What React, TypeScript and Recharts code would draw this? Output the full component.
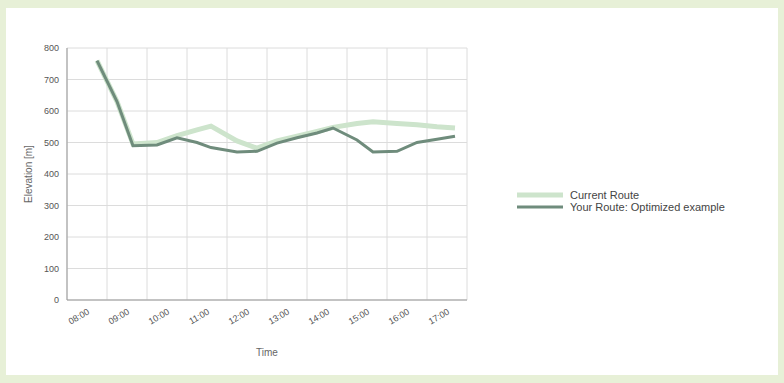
import { CartesianGrid, Legend, Line, LineChart, XAxis, YAxis } from 'recharts';

const timeLabels = ['08:00', '09:00', '10:00', '11:00', '12:00', '13:00', '14:00', '15:00', '16:00', '17:00'];
const tickHours = [0.5, 1.5, 2.5, 3.5, 4.5, 5.5, 6.5, 7.5, 8.5, 9.5];
const yTicks = [0, 100, 200, 300, 400, 500, 600, 700, 800];

const sampleHours = [0.75, 1.25, 1.65, 2.25, 2.75, 3.25, 3.6, 4.25, 4.75, 5.25, 5.75, 6.25, 6.65, 7.25, 7.65, 8.25, 8.75, 9.25, 9.7];
const currentRoute = [760, 630, 495, 500, 522, 540, 552, 505, 482, 505, 520, 535, 548, 560, 566, 560, 556, 550, 546];
const optimizedRoute = [760, 630, 490, 492, 515, 500, 484, 470, 472, 498, 515, 530, 546, 508, 470, 472, 500, 510, 520];

const data = sampleHours.map((t, i) => ({
  t,
  current: currentRoute[i],
  optimized: optimizedRoute[i]
}));

const font = "'Liberation Sans', Arial, sans-serif";

const legendItems = [
  { name: 'Current Route', color: '#cde4cc', width: 5 },
  { name: 'Your Route: Optimized example', color: '#6f8c7c', width: 3 }
];

function RouteLegend() {
  return (
    <div style={{ fontFamily: font, fontSize: 11, color: '#444' }}>
      {legendItems.map((item) => (
        <div key={item.name} style={{ display: 'flex', alignItems: 'center', height: 12 }}>
          <svg width={46} height={12} style={{ marginRight: 7 }}>
            <line x1={0} y1={6} x2={46} y2={6} stroke={item.color} strokeWidth={item.width} />
          </svg>
          <span>{item.name}</span>
        </div>
      ))}
    </div>
  );
}

function App() {
  return (
    <div>
      <style>{'body{margin:0;background:#e7f0d7;}'}</style>
      <div style={{ position: 'absolute', left: 6, top: 8, width: 772, height: 367, background: '#fff', fontFamily: font }}>
        <LineChart width={772} height={367} data={data} margin={{ top: 40, right: 51, bottom: 20, left: 10 }}>
          <CartesianGrid
            stroke='#dcdcdc'
            verticalCoordinatesGenerator={({ offset }: any) =>
              Array.from({ length: 11 }, (_, i) => offset.left + (offset.width * i) / 10)
            }
          />
          <XAxis
            dataKey='t'
            type='number'
            domain={[0, 10]}
            ticks={tickHours}
            tickFormatter={(v: number) => timeLabels[tickHours.indexOf(v)]}
            angle={-30}
            textAnchor='end'
            height={55}
            tick={{ fontSize: 9, fill: '#555', fontFamily: font }}
            stroke='#999'
            tickLine={false}
            label={{ value: 'Time', position: 'insideBottom', offset: -1, fontSize: 10, fill: '#666', fontFamily: font }}
          />
          <YAxis
            domain={[0, 800]}
            ticks={yTicks}
            width={51}
            tick={{ fontSize: 9, fill: '#555', fontFamily: font }}
            stroke='#999'
            tickLine={false}
            label={{ value: 'Elevation [m]', angle: -90, position: 'insideLeft', offset: 12, fontSize: 10, fill: '#666', fontFamily: font, style: { textAnchor: 'middle' } }}
          />
          <Legend
            layout='vertical'
            align='right'
            verticalAlign='middle'
            width={260}
            content={() => <RouteLegend />}
            wrapperStyle={{ position: 'absolute', left: 511, top: 181, width: 260 }}
          />
          <Line
            name='Current Route'
            dataKey='current'
            stroke='#cde4cc'
            strokeWidth={5}
            dot={false}
            isAnimationActive={false}
          />
          <Line
            name='Your Route: Optimized example'
            dataKey='optimized'
            stroke='#6f8c7c'
            strokeWidth={3}
            dot={false}
            isAnimationActive={false}
          />
        </LineChart>
      </div>
    </div>
  );
}
export default App;
